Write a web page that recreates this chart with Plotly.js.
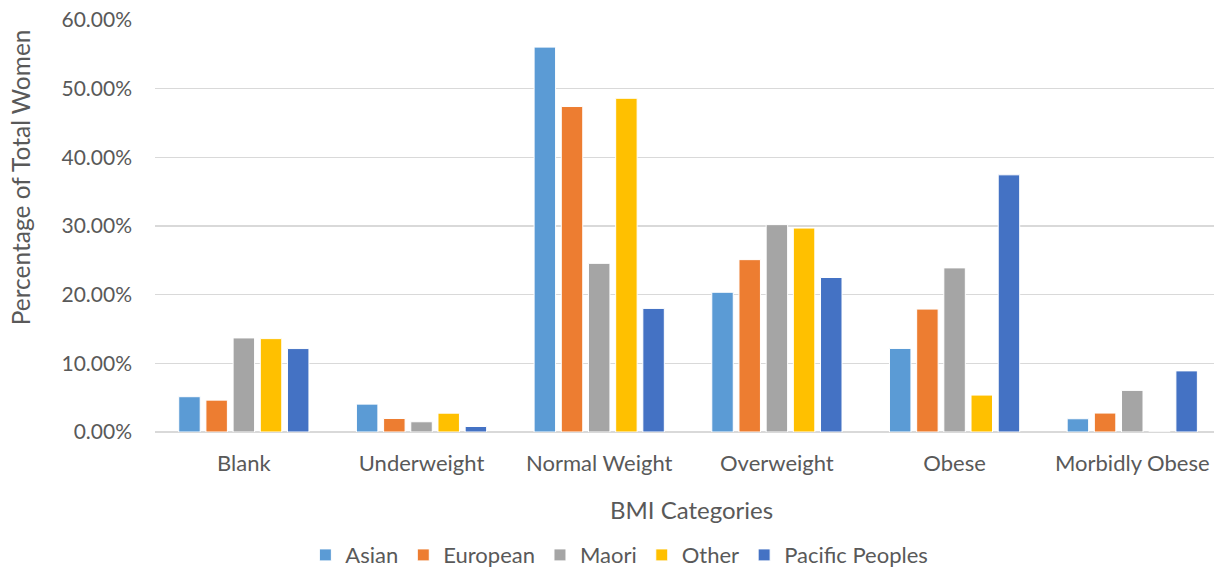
<!DOCTYPE html>
<html>
<head>
<meta charset="utf-8">
<script src="https://cdn.plot.ly/plotly-3.0.1.min.js"></script>
<style>html,body{margin:0;padding:0;background:#fff;}#chart{width:1214px;height:567px;}</style>
</head>
<body>
<div id="chart"></div>
<script>
const categories = ["Blank", "Underweight", "Normal Weight", "Overweight", "Obese", "Morbidly Obese"];
const seriesNames = ["Asian", "European", "Maori", "Other", "Pacific Peoples"];
const asian    = [0.0514, 0.0406, 0.5605, 0.2035, 0.1217, 0.0193];
const european = [0.0464, 0.0197, 0.4740, 0.2510, 0.1790, 0.0276];
const maori    = [0.1370, 0.0149, 0.2456, 0.3020, 0.2390, 0.0606];
const other    = [0.1360, 0.0274, 0.4860, 0.2970, 0.0538, 0.0000];
const pacific  = [0.1215, 0.0080, 0.1800, 0.2250, 0.3745, 0.0890];
const colors = ["#5B9BD5", "#ED7D31", "#A5A5A5", "#FFC000", "#4472C4"];
const yTickVals = [0, 0.1, 0.2, 0.3, 0.4, 0.5, 0.6];

const allSeries = [asian, european, maori, other, pacific];
const font = "Lato, 'Open Sans', sans-serif";
const traces = allSeries.map((vals, i) => ({
  type: "bar",
  name: seriesNames[i],
  x: categories,
  y: vals,
  marker: {color: colors[i], line: {color: "#ffffff", width: 1}},
  hoverinfo: "x+y+name"
}));

const layout = {
  width: 1214, height: 567,
  margin: {l: 155, r: 0, t: 20, b: 134.5, autoexpand: false},
  paper_bgcolor: "#ffffff", plot_bgcolor: "#ffffff",
  font: {family: font, color: "#595959", size: 21},
  barmode: "group",
  bargap: 0.235,
  bargroupgap: 0.21,
  showlegend: true,
  legend: {
    orientation: "h", xref: "paper", x: 0.4385, xanchor: "center",
    yref: "container", y: 0.021, yanchor: "middle",
    font: {family: font, size: 22, color: "#595959"},
    traceorder: "normal"
  },
  xaxis: {
    type: "category",
    range: [-0.5, 5.46],
    showgrid: false, zeroline: false, showline: false,
    ticks: "", ticklabelstandoff: 16,
    tickfont: {family: font, size: 22, color: "#595959"},
    fixedrange: true
  },
  yaxis: {
    range: [0, 0.6],
    tickvals: yTickVals,
    tickformat: ".2%",
    showgrid: true, gridcolor: "#D9D9D9", gridwidth: 1.5,
    zeroline: true, zerolinecolor: "#D9D9D9", zerolinewidth: 1.5,
    showline: false, ticks: "", ticklabelstandoff: 22,
    tickfont: {family: font, size: 21, color: "#595959"},
    fixedrange: true
  },
  annotations: [
    {text: "Percentage of Total Women", xref: "paper", yref: "paper",
     x: -0.127, y: 0.617, xanchor: "center", yanchor: "middle", textangle: -90,
     showarrow: false, font: {family: font, size: 24.5, color: "#595959"}},
    {text: "BMI Categories", xref: "paper", yref: "paper",
     x: 0.507, y: -0.188, xanchor: "center", yanchor: "middle",
     showarrow: false, font: {family: font, size: 24, color: "#595959"}}
  ]
};

Plotly.newPlot("chart", traces, layout, {displayModeBar: false, staticPlot: true});
</script>
</body>
</html>
